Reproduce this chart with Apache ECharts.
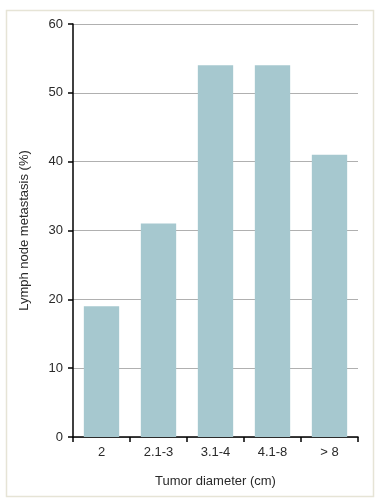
<!DOCTYPE html>
<html><head><meta charset="utf-8">
<script src="https://cdn.jsdelivr.net/npm/echarts@6/dist/echarts.min.js"></script>
<style>html,body{margin:0;padding:0;background:#fff}#c{width:381px;height:500px}</style>
</head><body><div id="c"></div>
<script>
const categories = ['2', '2.1-3', '3.1-4', '4.1-8', '> 8'];
const values = [19, 31, 54, 54, 41];
const yTicks = [0, 10, 20, 30, 40, 50, 60];

const font = 'Liberation Sans, Arial, sans-serif';
const chart = echarts.init(document.getElementById('c'));
chart.setOption({
  backgroundColor: '#ffffff',
  animation: false,
  graphic: [{
    type: 'rect', shape: {x: 6.5, y: 10.5, width: 367, height: 486},
    style: {fill: 'none', stroke: '#e6e4d6', lineWidth: 1.5}, silent: true
  }],
  grid: {left: 73, right: 23, top: 24, bottom: 63, containLabel: false},
  xAxis: {
    type: 'category', data: categories,
    axisLine: {lineStyle: {color: '#000', width: 1.5}},
    axisTick: {show: true, alignWithLabel: false, length: 5, lineStyle: {color: '#000', width: 1.5}},
    axisLabel: {color: '#2a2a2a', fontSize: 13, fontFamily: font, margin: 9},
    name: 'Tumor diameter (cm)', nameLocation: 'middle', nameGap: 38,
    nameTextStyle: {color: '#2a2a2a', fontSize: 13, fontFamily: font}
  },
  yAxis: {
    type: 'value', min: yTicks[0], max: yTicks[yTicks.length - 1], interval: 10,
    axisLine: {show: true, lineStyle: {color: '#000', width: 1.5}},
    axisTick: {show: true, length: 5, lineStyle: {color: '#000', width: 1.5}},
    axisLabel: {color: '#2a2a2a', fontSize: 13, fontFamily: font, margin: 10},
    splitLine: {show: true, lineStyle: {color: '#b0b0b0', width: 1}},
    name: 'Lymph node metastasis (%)', nameLocation: 'middle', nameGap: 42,
    nameTextStyle: {color: '#2a2a2a', fontSize: 13, fontFamily: font}
  },
  series: [{
    type: 'bar', data: values, barCategoryGap: '38%',
    itemStyle: {color: '#a6c8cf'}
  }]
});
</script></body></html>
